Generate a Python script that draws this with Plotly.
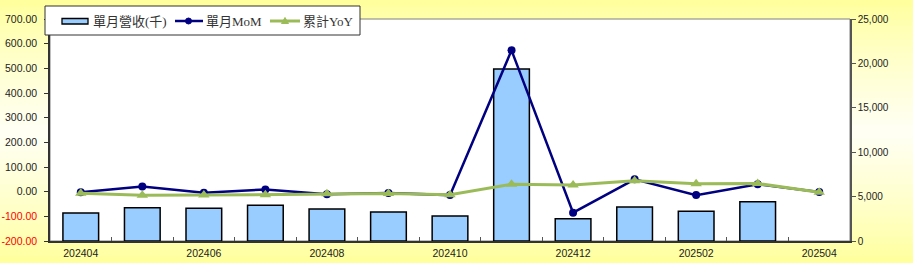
import plotly.graph_objects as go

months = ["202404", "202405", "202406", "202407", "202408", "202409", "202410",
          "202411", "202412", "202501", "202502", "202503", "202504"]
revenue_k = [3150, 3750, 3680, 4020, 3600, 3270, 2815, 19370, 2510, 3830, 3340, 4430, None]
mom_pct = [-2, 21, -4, 9, -10, -5, -14, 573, -85, 50, -14, 30, -1]
yoy_pct = [-6, -15, -14, -12, -8, -7, -12, 30, 27, 44, 32, 33, -2]

left_ticks = [-200, -100, 0, 100, 200, 300, 400, 500, 600, 700]
right_ticks = [0, 5000, 10000, 15000, 20000, 25000]
series_names = ["單月營收(千)", "單月MoM", "累計YoY"]

left_text = [("<span style='color:#FF0000'>%.2f</span>" % v) if v < 0 else ("%.2f" % v) for v in left_ticks]
right_text = ["{:,}".format(v) for v in right_ticks]
x_text = [m if i % 2 == 0 else "" for i, m in enumerate(months)]

BAR_COLOR = "#99CCFF"
MOM_COLOR = "#000080"
YOY_COLOR = "#9BBB59"

W, H = 913, 263
ML, MR, MT, MB = 50, 63, 19, 22
PW = W - ML - MR
PH = H - MT - MB

def px(x):
    return (x - ML) / PW

def py(y):
    return (H - MB - y) / PH

fig = go.Figure()

fig.add_trace(go.Bar(
    x=months, y=revenue_k, name=series_names[0], yaxis="y",
    marker=dict(color=BAR_COLOR, line=dict(color="#000000", width=1.5)),
    width=0.58, showlegend=False,
))
fig.add_trace(go.Scatter(
    x=months, y=mom_pct, name=series_names[1], yaxis="y2", mode="lines+markers",
    line=dict(color=MOM_COLOR, width=2.5),
    marker=dict(symbol="circle", size=8, color=MOM_COLOR), showlegend=False,
))
fig.add_trace(go.Scatter(
    x=months, y=yoy_pct, name=series_names[2], yaxis="y2", mode="lines+markers",
    line=dict(color=YOY_COLOR, width=3),
    marker=dict(symbol="triangle-up", size=10, color=YOY_COLOR), showlegend=False,
))

# background vertical gradient: yellow at top/bottom, nearly white in the middle
shapes = []
n = 40
def lerp(a, b, t):
    return int(round(a + (b - a) * t))
top = (255, 255, 153)
mid = (255, 255, 245)
midpos = 0.5
for i in range(n):
    f0 = i / n
    f1 = (i + 1) / n
    fc = (f0 + f1) / 2
    t = fc / midpos if fc < midpos else (1 - fc) / (1 - midpos)
    t = t ** 0.8
    col = "rgb(%d,%d,%d)" % (lerp(top[0], mid[0], t), lerp(top[1], mid[1], t), lerp(top[2], mid[2], t))
    shapes.append(dict(type="rect", xref="paper", yref="paper", layer="below",
                       x0=px(-5), x1=px(W + 5), y0=py(f0 * H), y1=py(f1 * H + 0.5),
                       fillcolor=col, line=dict(width=0)))
# white plot area with gray border
shapes.append(dict(type="rect", xref="paper", yref="paper", layer="below",
                   x0=0, x1=1, y0=0, y1=1, fillcolor="white",
                   line=dict(color="#808080", width=1)))

# custom legend box
shapes.append(dict(type="rect", xref="paper", yref="paper", layer="above",
                   x0=px(45), x1=px(360), y0=py(35), y1=py(6),
                   fillcolor="white", line=dict(color="#333333", width=1)))
ly = 21
# bar swatch
shapes.append(dict(type="rect", xref="paper", yref="paper", layer="above",
                   x0=px(62), x1=px(88), y0=py(24), y1=py(18.5),
                   fillcolor=BAR_COLOR, line=dict(color="#000000", width=1.3)))
# MoM swatch
shapes.append(dict(type="line", xref="paper", yref="paper", layer="above",
                   x0=px(175), x1=px(203), y0=py(ly), y1=py(ly),
                   line=dict(color=MOM_COLOR, width=2.5)))
shapes.append(dict(type="circle", xref="paper", yref="paper", layer="above",
                   x0=px(185.5), x1=px(191.5), y0=py(ly + 3), y1=py(ly - 3),
                   fillcolor=MOM_COLOR, line=dict(color=MOM_COLOR, width=1)))
# YoY swatch
shapes.append(dict(type="line", xref="paper", yref="paper", layer="above",
                   x0=px(270), x1=px(300), y0=py(ly), y1=py(ly),
                   line=dict(color=YOY_COLOR, width=3)))
tri = "M %f %f L %f %f L %f %f Z" % (px(281.5), py(ly + 2.5), px(288.5), py(ly + 2.5), px(285), py(ly - 3.5))
shapes.append(dict(type="path", xref="paper", yref="paper", layer="above", path=tri,
                   fillcolor=YOY_COLOR, line=dict(color=YOY_COLOR, width=1)))

legend_font = dict(family="Liberation Serif, Noto Sans CJK TC, serif", size=13, color="#333333")
annotations = [
    dict(text=series_names[0], x=px(91), y=py(ly), xref="paper", yref="paper",
         xanchor="left", yanchor="middle", showarrow=False, font=legend_font),
    dict(text=series_names[1], x=px(204), y=py(ly), xref="paper", yref="paper",
         xanchor="left", yanchor="middle", showarrow=False, font=legend_font),
    dict(text=series_names[2], x=px(301), y=py(ly), xref="paper", yref="paper",
         xanchor="left", yanchor="middle", showarrow=False, font=legend_font),
]

fig.update_layout(
    width=W, height=H,
    margin=dict(l=ML, r=MR, t=MT, b=MB),
    paper_bgcolor="#FFFFCC",
    plot_bgcolor="rgba(0,0,0,0)",
    shapes=shapes,
    annotations=annotations,
    showlegend=False,
    font=dict(family="Liberation Sans, Arial, sans-serif", size=10.5, color="#222222"),
    xaxis=dict(
        type="category", range=[-0.5, len(months) - 0.5], autorange=False,
        tickmode="array", tickvals=months, ticktext=x_text,
        tickson="boundaries", ticks="inside", ticklen=4, tickcolor="#555555",
        showline=True, linecolor="#333333", linewidth=1.5, showgrid=False,
        tickfont=dict(size=10.5, color="#222222"), automargin=False,
        ticklabelstandoff=2,
    ),
    yaxis=dict(
        side="right", range=[0, 25000], tickmode="array", tickvals=right_ticks,
        ticktext=right_text, ticks="outside", ticklen=4, tickcolor="#555555",
        showline=True, linecolor="#555555", linewidth=1.5, showgrid=False,
        zeroline=False, tickfont=dict(size=10, color="#222222"), automargin=False,
    ),
    yaxis2=dict(
        side="left", overlaying="y", range=[-200, 700], tickmode="array",
        tickvals=left_ticks, ticktext=left_text, ticks="outside", ticklen=4,
        tickcolor="#333333", showline=True, linecolor="#333333", linewidth=1.5,
        showgrid=False, zeroline=False, tickfont=dict(size=10.5, color="#222222"),
        automargin=False, ticklabelstandoff=5,
    ),
)

fig.write_html("out.html")
